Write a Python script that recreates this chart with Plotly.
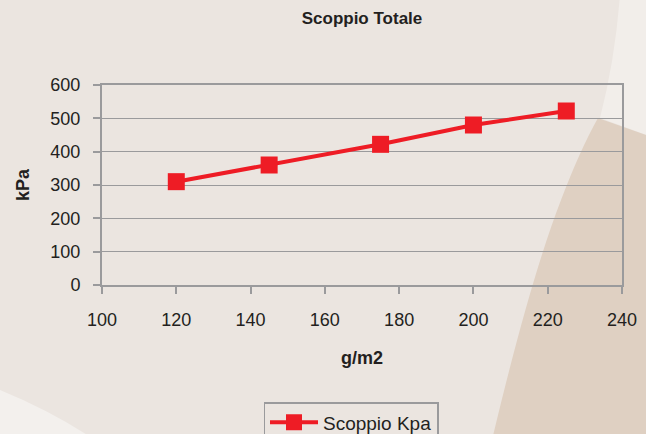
import plotly.graph_objects as go

grammature = [120, 145, 175, 200, 225]
scoppio_kpa = [310, 360, 422, 480, 522]
series_name = "Scoppio Kpa"
title_text = "Scoppio Totale"
x_title = "g/m2"
y_title = "kPa"
x_ticks = [100, 120, 140, 160, 180, 200, 220, 240]
y_ticks = [0, 100, 200, 300, 400, 500, 600]

W, H = 646, 434
L, R, T, B = 102, 24, 85, 149
pw, ph = W - L - R, H - T - B

def px(x):
    return (x - L) / pw

def py(y):
    return (H - B - y) / ph

font = "Liberation Sans, Arial, sans-serif"
red = "#EE1C25"
grey = "#9A9A9C"
paper = "#EBE5E0"

fig = go.Figure()
fig.add_trace(go.Scatter(
    x=grammature, y=scoppio_kpa, name=series_name, mode="lines+markers",
    line=dict(color=red, width=4),
    marker=dict(symbol="square", size=17, color=red),
))

# decorative background shapes (paper coords from pixel positions)
def pt(x, y):
    return f"{px(x):.4f},{py(y):.4f}"

light = (f"M {pt(620, -5)} L {pt(660, -5)} L {pt(660, 140)} L {pt(600, 118)} "
         f"Q {pt(615, 60)} {pt(620, -5)} Z")
tan = (f"M {pt(598, 118)} L {pt(660, 140)} L {pt(660, 440)} L {pt(492, 440)} "
       f"Q {pt(530, 280)} {pt(561, 200)} Q {pt(580, 150)} {pt(598, 118)} Z")
light2 = (f"M {pt(-5, 388)} Q {pt(50, 410)} {pt(95, 440)} L {pt(-5, 440)} Z")
fig.add_shape(type="path", path=light, xref="paper", yref="paper",
              fillcolor="#F2EEEA", line=dict(width=0), layer="below")
fig.add_shape(type="path", path=tan, xref="paper", yref="paper",
              fillcolor="#DFD0C2", line=dict(width=0), layer="below")
fig.add_shape(type="path", path=light2, xref="paper", yref="paper",
              fillcolor="#F3F0ED", line=dict(width=0), layer="below")

fig.update_layout(
    width=W, height=H,
    margin=dict(l=L, r=R, t=T, b=B, autoexpand=False),
    paper_bgcolor=paper,
    plot_bgcolor="rgba(0,0,0,0)",
    font=dict(family=font, color="#231F20", size=18),
    title=dict(text=f"<b>{title_text}</b>", x=362 / W, xanchor="center",
               y=1 - 18 / H, yanchor="middle", font=dict(size=17)),
    showlegend=True,
    legend=dict(orientation="h", xref="container", yref="container",
                x=351 / W, xanchor="center", y=1 - 402 / H, yanchor="top",
                bordercolor=grey, borderwidth=1.5, bgcolor="rgba(0,0,0,0)",
                font=dict(size=19), itemwidth=48),
    xaxis=dict(range=[100, 240], tickvals=x_ticks, showgrid=False,
               showline=True, linecolor=grey, linewidth=2, mirror=True,
               ticks="outside", ticklen=7, tickcolor=grey, tickwidth=1.5,
               ticklabelstandoff=10, zeroline=False,
               title=dict(text=f"<b>{x_title}</b>", font=dict(size=18), standoff=23)),
    yaxis=dict(range=[0, 600], tickvals=y_ticks, showgrid=True, gridcolor=grey,
               gridwidth=1.2, showline=True, linecolor=grey, linewidth=2, mirror=True,
               ticks="outside", ticklen=7, tickcolor=grey, tickwidth=1.5,
               ticklabelstandoff=9, zeroline=False,
               title=dict(text=f"<b>{y_title}</b>", font=dict(size=18), standoff=16)),
)

fig.write_html("out.html", config={"displayModeBar": False},
               post_script=f"document.body.style.margin='0';document.body.style.background='{paper}';")
